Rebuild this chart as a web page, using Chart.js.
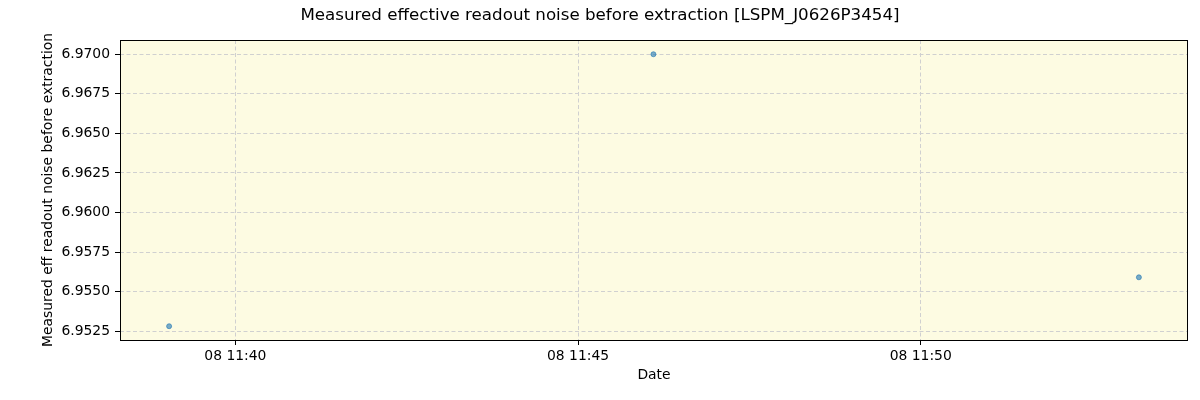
<!DOCTYPE html>
<html>
<head>
<meta charset="utf-8">
<script src="https://cdn.jsdelivr.net/npm/chart.js"></script>
<style>
  html, body { margin: 0; padding: 0; background: #fff; }
  #wrap { width: 1200px; height: 400px; }
</style>
</head>
<body>
<div id="wrap"><canvas id="c"></canvas></div>
<script>
// data (times on day 08)
const times = ['11:39:02', '11:46:06', '11:53:11'];
const noise = [6.95282, 6.97000, 6.95591];
const yTicks = [6.9525, 6.9550, 6.9575, 6.9600, 6.9625, 6.9650, 6.9675, 6.9700];
const xTicks = ['11:40', '11:45', '11:50'];

// minutes since midnight
function toMin(s) {
    const p = s.split(':').map(Number);
    return p[0] * 60 + p[1] + (p[2] || 0) / 60;
}
function fmt(m) {
    const h = Math.floor(m / 60);
    const mm = Math.round(m - h * 60);
    return '08 ' + String(h).padStart(2, '0') + ':' + String(mm).padStart(2, '0');
}

const points = times.map((t, i) => ({ x: toMin(t), y: noise[i] }));
const FONT = "'DejaVu Sans', sans-serif";

// background, frame and text in matplotlib style
const decor = {
    id: 'decor',
    beforeDraw(chart) {
        const { ctx, chartArea: a } = chart;
        ctx.save();
        ctx.fillStyle = 'rgb(253,251,226)';
        ctx.fillRect(a.left, a.top, a.right - a.left, a.bottom - a.top);
        ctx.restore();
    },
    afterDraw(chart) {
        const { ctx, chartArea: a } = chart;
        ctx.save();
        ctx.strokeStyle = '#000';
        ctx.lineWidth = 1;
        ctx.strokeRect(a.left + 0.5, a.top + 0.5, a.right - a.left - 1, a.bottom - a.top);
        ctx.fillStyle = '#000';
        ctx.textAlign = 'center';
        ctx.textBaseline = 'middle';
        ctx.font = '16.7px ' + FONT;
        ctx.fillText('Measured effective readout noise before extraction [LSPM_J0626P3454]', 600, 16);
        ctx.font = '13.9px ' + FONT;
        ctx.fillText('Date', (a.left + a.right) / 2, 375);
        ctx.translate(48, (a.top + a.bottom) / 2);
        ctx.rotate(-Math.PI / 2);
        ctx.fillText('Measured eff readout noise before extraction', 0, 0);
        ctx.restore();
    }
};

const gridOpts = {
    color: '#d0d0d0',
    tickColor: '#000',
    tickLength: 5,
    tickBorderDash: []
};

new Chart(document.getElementById('c'), {
    type: 'scatter',
    data: {
        datasets: [{
            data: points,
            backgroundColor: 'rgba(31,119,180,0.6)',
            borderColor: 'rgba(31,119,180,0.6)',
            pointRadius: 2.5,
            pointHoverRadius: 2.5
        }]
    },
    options: {
        responsive: true,
        maintainAspectRatio: false,
        animation: false,
        layout: { padding: { top: 40, right: 12, left: 0, bottom: 0 } },
        plugins: { legend: { display: false }, tooltip: { enabled: false } },
        scales: {
            x: {
                type: 'linear',
                min: toMin('11:38:19'),
                max: toMin('11:53:54'),
                afterFit: s => { s.height = 60; },
                afterBuildTicks: s => { s.ticks = xTicks.map(t => ({ value: toMin(t) })); },
                ticks: {
                    callback: v => fmt(v),
                    color: '#000',
                    font: { family: FONT, size: 13.9 },
                    maxRotation: 0,
                    padding: 3
                },
                grid: gridOpts,
                border: { display: false, dash: [4, 2.5] }
            },
            y: {
                min: 6.95195,
                max: 6.97090,
                afterFit: s => { s.width = 120; },
                afterBuildTicks: s => { s.ticks = yTicks.map(v => ({ value: v })); },
                ticks: {
                    callback: v => v.toFixed(4),
                    color: '#000',
                    font: { family: FONT, size: 13.9 },
                    padding: 5
                },
                grid: gridOpts,
                border: { display: false, dash: [4, 2.5] }
            }
        }
    },
    plugins: [decor]
});
</script>
</body>
</html>
